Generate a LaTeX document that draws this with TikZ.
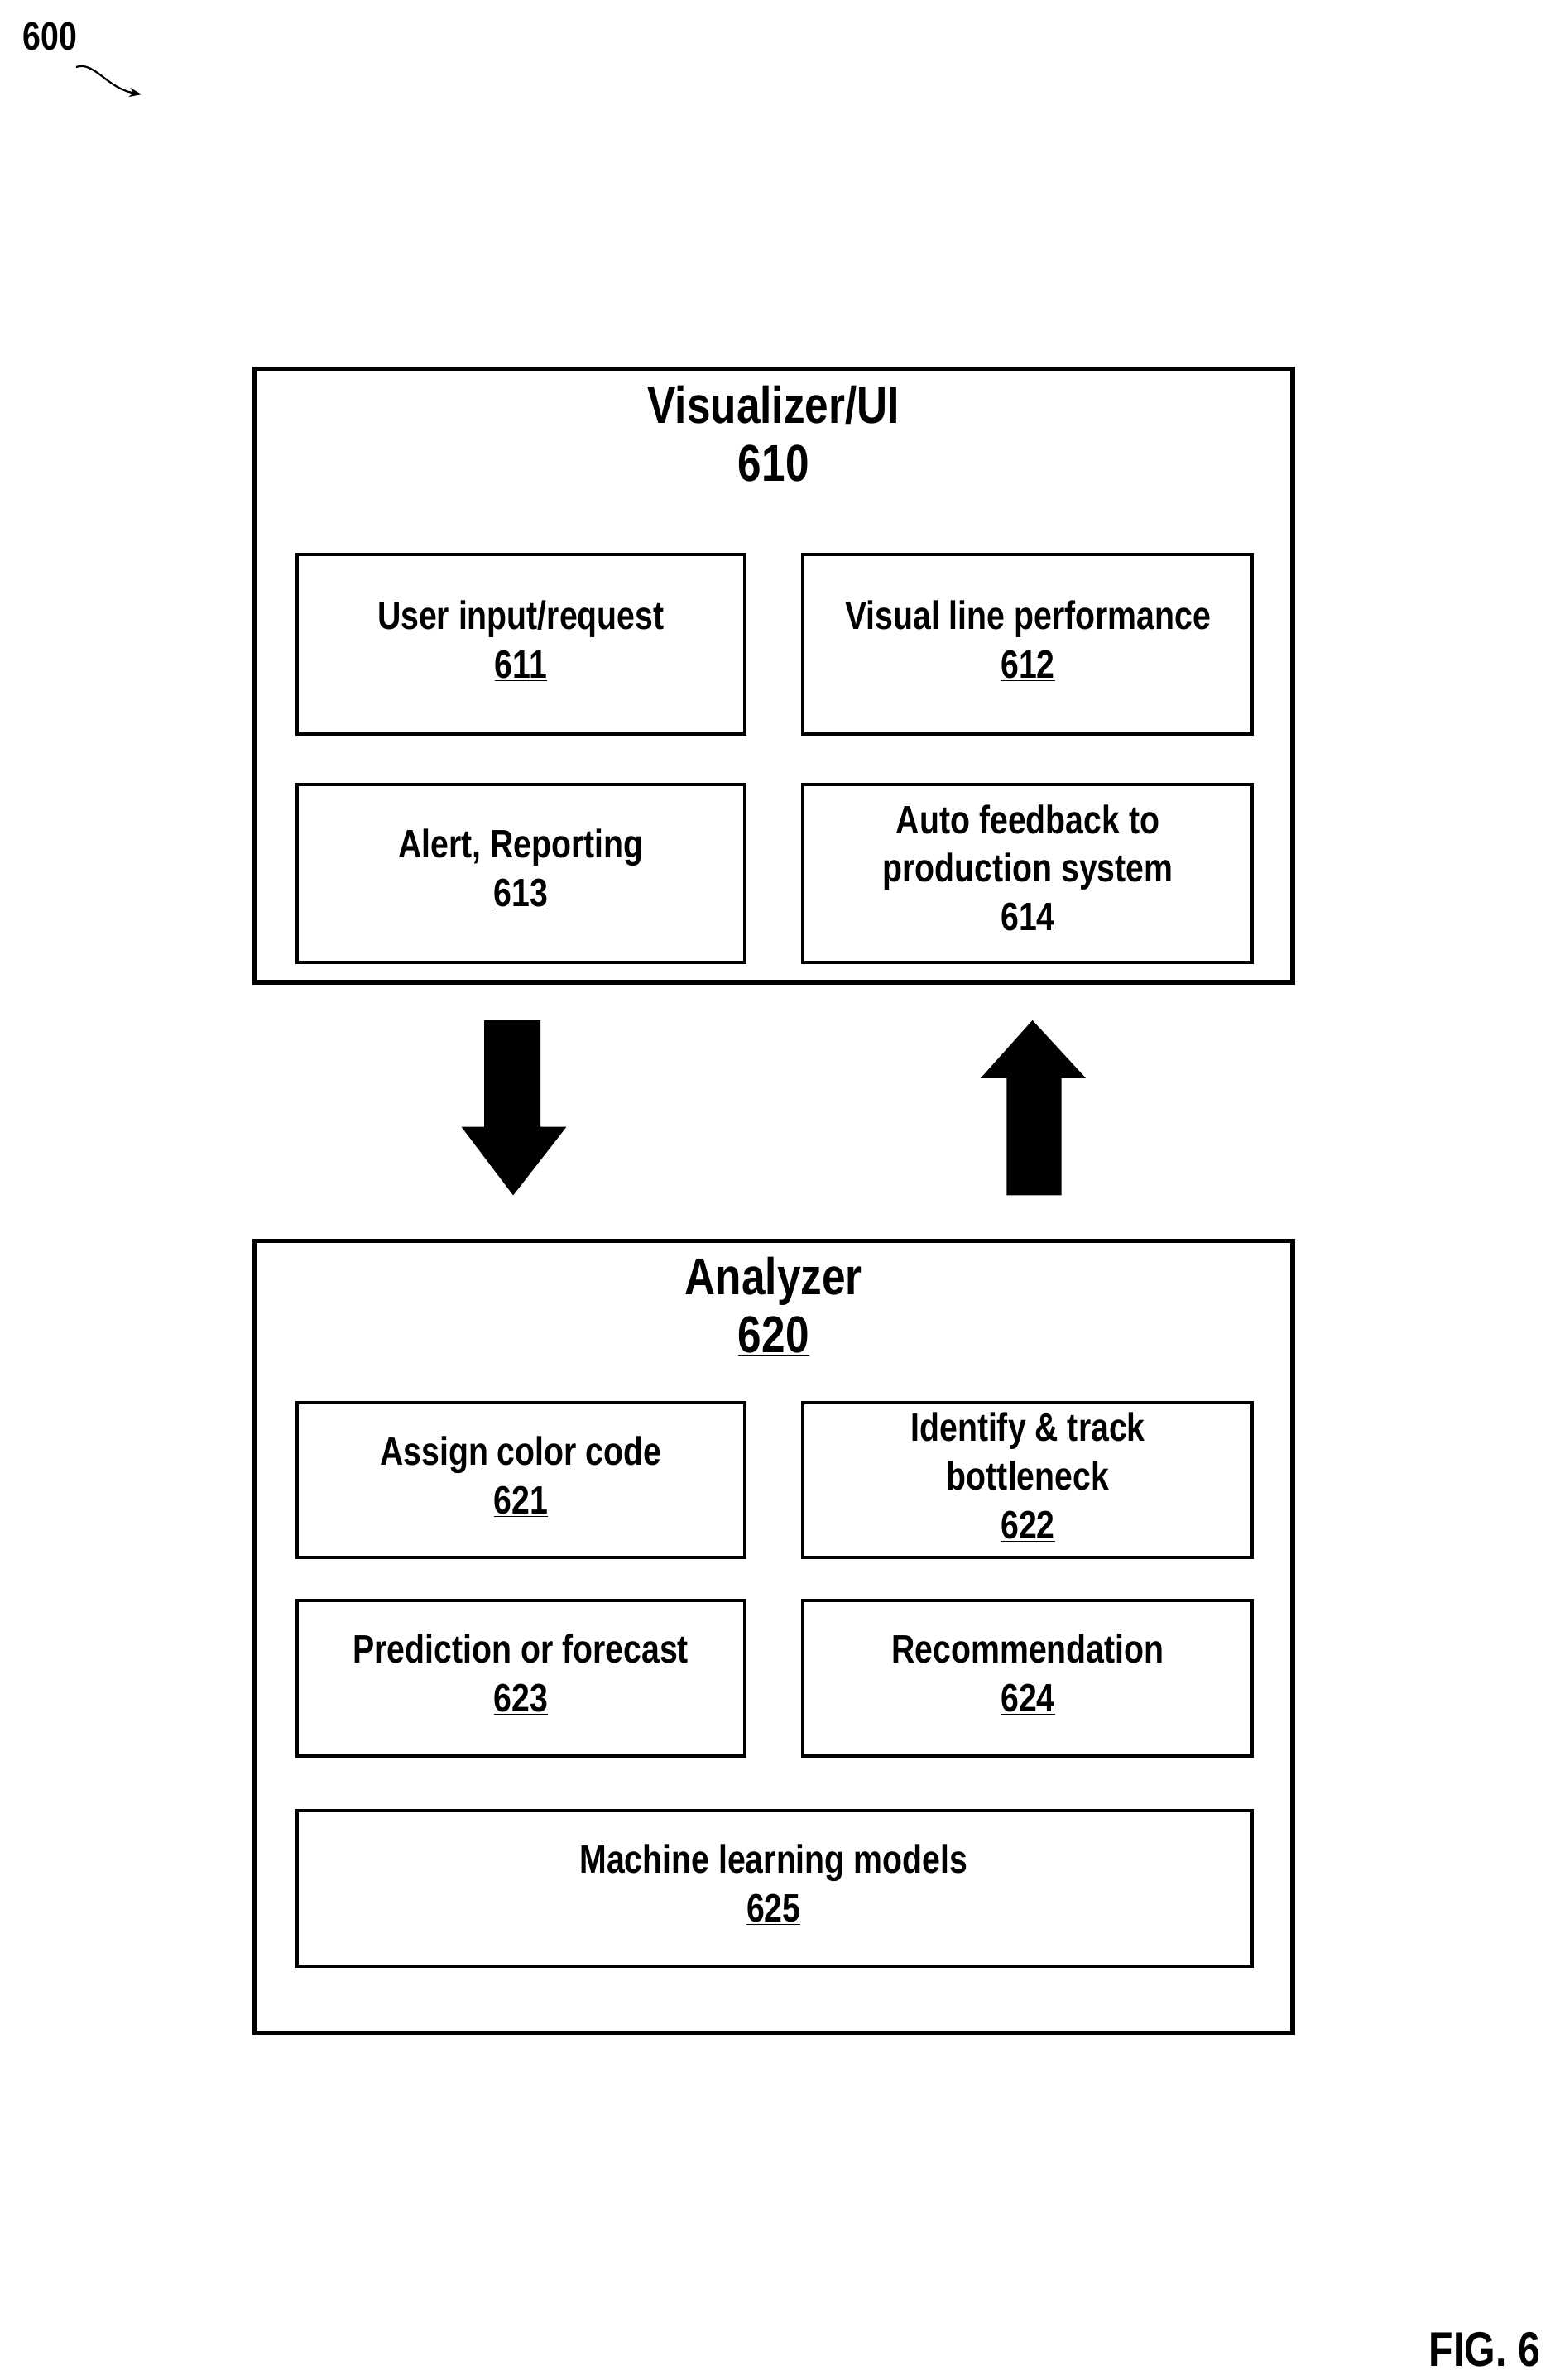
\documentclass[tikz,border=0pt]{standalone}
\usepackage{fontspec}
\usetikzlibrary{arrows.meta}
\setmainfont{Liberation Sans}[FakeStretch=0.82]
\begin{document}
\begin{tikzpicture}[x=1pt,y=-1pt,
  outer/.style={draw,line width=3pt},
  inner/.style={draw,line width=2.2pt},
  lbl/.style={align=center,font=\fontsize{26}{32}\selectfont\bfseries},
  ttl/.style={align=center,font=\fontsize{34}{42}\selectfont\bfseries},
  bigarrow/.style={fill=black,draw=none}]
\useasboundingbox (0,0) rectangle (1024,1563);
\node[font=\fontsize{26}{30}\selectfont\bfseries] (n600) at (33,24) {600};
\coordinate (a600) at (93,62);
\draw[line width=1.2pt,-{Stealth[length=8pt]}] (50,44) .. controls (62,40) and (70,58) .. (a600);
% Visualizer
\draw[outer] (167,242) rectangle (849,645);
\node[ttl] (t610) at (508,285) {Visualizer/UI\\[-4pt]610};
\draw[inner] (195,364) rectangle (489,482); \node[lbl] (n611) at (342,421) {User input/request\\\underline{611}};
\draw[inner] (527,364) rectangle (822,482); \node[lbl] (n612) at (675,421) {Visual line performance\\\underline{612}};
\draw[inner] (195,515) rectangle (489,632); \node[lbl] (n613) at (342,571) {Alert, Reporting\\\underline{613}};
\draw[inner] (527,515) rectangle (822,632); \node[lbl] (n614) at (675,571) {Auto feedback to\\production system\\\underline{614}};
% arrows
\fill[bigarrow] (318,670) -- (355,670) -- (355,740) -- (372,740) -- (337,785) -- (303,740) -- (318,740) -- cycle;
\fill[bigarrow] (661,785) -- (697,785) -- (697,708) -- (713,708) -- (678,670) -- (644,708) -- (661,708) -- cycle;
% Analyzer
\draw[outer] (167,815) rectangle (849,1335);
\node[ttl] (t620) at (508,858) {Analyzer\\[-4pt]\underline{620}};
\draw[inner] (195,921) rectangle (489,1023); \node[lbl] (n621) at (342,970) {Assign color code\\\underline{621}};
\draw[inner] (527,921) rectangle (822,1023); \node[lbl] (n622) at (675,970) {Identify \& track\\bottleneck\\\underline{622}};
\draw[inner] (195,1051) rectangle (489,1153); \node[lbl] (n623) at (342,1100) {Prediction or forecast\\\underline{623}};
\draw[inner] (527,1051) rectangle (822,1153); \node[lbl] (n624) at (675,1100) {Recommendation\\\underline{624}};
\draw[inner] (195,1189) rectangle (822,1291); \node[lbl] (n625) at (508,1238) {Machine learning models\\\underline{625}};
\node[font=\fontsize{32}{36}\selectfont\bfseries] (fig) at (975,1543) {FIG. 6};
\end{tikzpicture}
\end{document}
